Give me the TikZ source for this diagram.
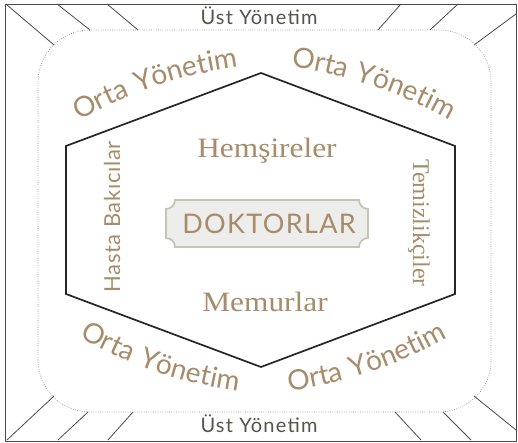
\documentclass[tikz,border=0pt]{standalone}
\usepackage{fontspec}
\setmainfont{Liberation Serif}
\newfontfamily\serifw[FakeStretch=1.12]{Liberation Serif}
\newfontfamily\serifn{Liberation Serif}
\newfontfamily\sansw[LetterSpace=3]{Lato}
\newfontfamily\ustfont[LetterSpace=6]{Lato}
\newfontfamily\ortafont[LetterSpace=5]{Lato}
\newfontfamily\dokfont[LetterSpace=5]{Lato}
\usetikzlibrary{decorations.text}
\definecolor{tanc}{HTML}{A78C6B}
\definecolor{ustc}{HTML}{54564A}
\definecolor{hexc}{HTML}{262626}
\definecolor{dotc}{HTML}{8C8C8C}
\definecolor{hatchc}{HTML}{4A4A4A}
\definecolor{boxfill}{HTML}{EDEDEB}
\definecolor{boxline}{HTML}{C4C6B4}
\tikzset{
  outerline/.style={draw=hatchc, line width=0.9pt},
  hatch/.style={draw=hatchc, line width=0.8pt},
  dotline/.style={draw=dotc, line width=0.7pt, dash pattern=on 0.7pt off 1.6pt},
  hexline/.style={draw=hexc, line width=1.7pt, line join=miter},
  plaque/.style={draw=boxline, fill=boxfill, line width=1.8pt},
  usttext/.style={text=ustc, font=\fontsize{20}{23}\selectfont\ustfont, inner sep=0pt},
  inner/.style={text=tanc, font=\fontsize{28}{32}\selectfont\serifw, inner sep=0pt},
  sidesans/.style={text=tanc, font=\fontsize{22}{26}\selectfont\sansw, inner sep=0pt},
  sideserif/.style={text=tanc, font=\fontsize{24}{28}\selectfont\serifn, inner sep=0pt},
  doktext/.style={text=tanc, font=\fontsize{27}{30}\selectfont\dokfont, inner sep=0pt},
  orta/.style={decorate, decoration={text along path, text align=center,
     text color=tanc, text={|\fontsize{28}{32}\selectfont\ortafont|Orta Yönetim}}}
}
\begin{document}
\begin{tikzpicture}[x=1pt,y=1pt]
\useasboundingbox (0,0) rectangle (518,443);
\fill[white] (0,0) rectangle (518,443);
% outer frame
\draw[outerline] (5,2) rectangle (516,439);
% hatch lines
\draw[hatch] (7,438) -- (54,398);
\draw[hatch] (57,439) -- (90,413);
\draw[hatch] (107,439) -- (138,413);
\draw[hatch] (401,439) -- (378,413);
\draw[hatch] (458,439) -- (430,413);
\draw[hatch] (516,429) -- (474,398);
\draw[hatch] (7,3) -- (54,47);
\draw[hatch] (58,3) -- (88,31);
\draw[hatch] (108,3) -- (133,31);
\draw[hatch] (395,31) -- (421,3);
\draw[hatch] (443,31) -- (471,3);
\draw[hatch] (474,47) -- (516,13);
% dotted rounded rectangle
\draw[dotline, rounded corners=52pt] (38,31) rectangle (491,413);
% hexagon
\draw[hexline] (261,370) -- (455,297) -- (455,149) -- (261,76) -- (66,149) -- (66,297) -- cycle;
% plaque
\draw[plaque] (175,243) -- (359,243) arc[start angle=180, end angle=270, radius=9]
  -- (368,205) arc[start angle=90, end angle=180, radius=9]
  -- (175,196) arc[start angle=0, end angle=90, radius=9]
  -- (166,234) arc[start angle=270, end angle=360, radius=9] -- cycle;
% texts
\node[usttext, anchor=base] (ust1) at (259,418) {Üst Yönetim};
\node[usttext, anchor=base] (ust2) at (259,10) {Üst Yönetim};
\node[inner, anchor=base] (hem) at (267,285) {Hemşireler};
\node[inner, anchor=base] (mem) at (265,131) {Memurlar};
\node[doktext, anchor=base] (dok) at (269,209) {DOKTORLAR};
\node[sidesans, rotate=90] (hasta) at (112,226) {Hasta Bakıcılar};
\node[sideserif, rotate=-90] (temiz) at (419,220) {Temizlikçiler};
% curved Orta Yönetim
\coordinate (ctl) at (301,-71.4);
\coordinate (ctr) at (228,-71.4);
\coordinate (cbl) at (301,499.4);
\coordinate (cbr) at (226,499.4);
\path[orta] (ctl) ++(127:452) arc[start angle=127, end angle=90.4, radius=452];
\path[orta] (ctr) ++(89.6:452) arc[start angle=89.6, end angle=53, radius=452];
\path[orta] (cbl) ++(-127:452) arc[start angle=-127, end angle=-90.4, radius=452];
\path[orta] (cbr) ++(-89.6:452) arc[start angle=-89.6, end angle=-53, radius=452];
\end{tikzpicture}
\end{document}
